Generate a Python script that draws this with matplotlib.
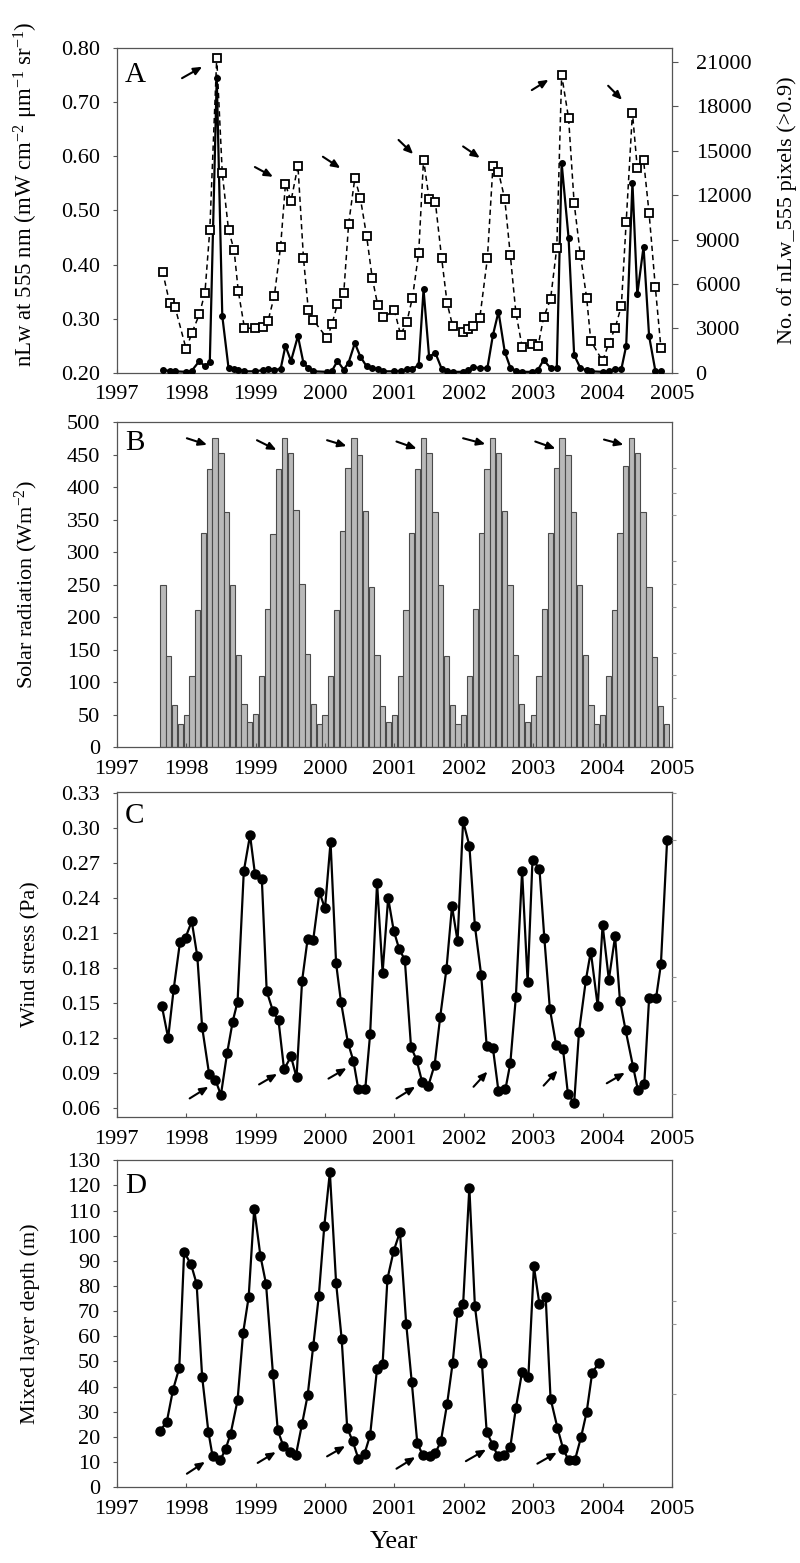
#!/usr/bin/env python3
"""Monthly nLw(555), solar radiation, wind stress and mixed layer depth, 1997-2005."""

import numpy as np
import matplotlib
matplotlib.use('Agg')
import matplotlib.pyplot as plt

plt.rcParams['font.family'] = 'Liberation Serif'
plt.rcParams['mathtext.fontset'] = 'custom'
plt.rcParams['mathtext.rm'] = 'Liberation Serif'
plt.rcParams['mathtext.it'] = 'Liberation Serif:italic'

FS = 16

# ─── data ─────

# A: nLw at 555 nm (left axis) and number of turbid pixels (right axis)
nlw_year = [1997.66, 1997.76, 1997.84, 1998.00, 1998.08, 1998.19, 1998.27, 1998.34, 1998.44, 1998.52,
            1998.61, 1998.69, 1998.75, 1998.84, 1998.99, 1999.10, 1999.18, 1999.27, 1999.36, 1999.43,
            1999.51, 1999.61, 1999.69, 1999.76, 1999.83, 2000.03, 2000.10, 2000.18, 2000.27, 2000.34,
            2000.43, 2000.51, 2000.60, 2000.68, 2000.76, 2000.84, 2001.00, 2001.09, 2001.18, 2001.26,
            2001.35, 2001.42, 2001.50, 2001.59, 2001.68, 2001.76, 2001.84, 2001.99, 2002.06, 2002.13,
            2002.23, 2002.34, 2002.42, 2002.50, 2002.59, 2002.67, 2002.75, 2002.84, 2002.98, 2003.07,
            2003.15, 2003.25, 2003.34, 2003.41, 2003.51, 2003.59, 2003.68, 2003.77, 2003.83, 2004.00,
            2004.09, 2004.18, 2004.27, 2004.34, 2004.43, 2004.50, 2004.59, 2004.67, 2004.76, 2004.84]
nlw_555 = [0.205, 0.204, 0.203, 0.202, 0.204, 0.222, 0.212, 0.220, 0.745, 0.305,
           0.209, 0.208, 0.206, 0.203, 0.203, 0.205, 0.208, 0.206, 0.207, 0.250,
           0.222, 0.268, 0.218, 0.209, 0.203, 0.202, 0.204, 0.222, 0.206, 0.219,
           0.255, 0.230, 0.212, 0.209, 0.207, 0.203, 0.203, 0.204, 0.207, 0.207,
           0.215, 0.354, 0.230, 0.237, 0.208, 0.204, 0.202, 0.202, 0.205, 0.211,
           0.209, 0.209, 0.270, 0.313, 0.239, 0.210, 0.204, 0.202, 0.202, 0.206,
           0.224, 0.209, 0.209, 0.587, 0.449, 0.233, 0.209, 0.205, 0.203, 0.202,
           0.203, 0.208, 0.207, 0.250, 0.551, 0.345, 0.433, 0.268, 0.204, 0.203]
n_pixels = [6840, 4750, 4430, 1600, 2680, 3960, 5420, 9650, 21280, 13480,
            9650, 8300, 5540, 3020, 3020, 3130, 3530, 5200, 8530, 12740,
            11610, 13990, 7740, 4250, 3580, 2340, 3290, 4660, 5380, 10040,
            13160, 11790, 9230, 6430, 4570, 3750, 4230, 2570, 3460, 5080,
            8100, 14410, 11750, 11540, 7780, 4700, 3160, 2770, 2970, 3200,
            3690, 7740, 13990, 13570, 11750, 7970, 4080, 1780, 1920, 1800,
            3750, 4980, 8460, 20120, 17190, 11460, 7970, 5080, 2160, 810,
            2010, 3020, 4520, 10210, 17570, 13820, 14380, 10780, 5790, 1710]

# B: monthly solar radiation, Sep 1997 - Dec 2004
solar_start = 1997 + 8 / 12
solar = [250, 140, 65, 36,
         50, 110, 211, 330, 428, 475, 452, 362, 250, 141, 66, 38,
         51, 110, 213, 328, 428, 476, 452, 365, 251, 143, 66, 36,
         50, 110, 211, 332, 430, 476, 450, 363, 247, 141, 63, 38,
         50, 110, 211, 330, 428, 475, 452, 362, 250, 140, 65, 36,
         50, 110, 213, 330, 428, 476, 452, 363, 250, 141, 66, 38,
         50, 110, 213, 330, 430, 476, 450, 362, 250, 141, 65, 36,
         50, 110, 211, 330, 432, 476, 452, 362, 247, 138, 64, 36]

# C: wind stress
wind_year = [1997.65, 1997.74, 1997.82, 1997.91, 1997.99, 1998.08, 1998.16, 1998.23, 1998.33, 1998.42,
             1998.50, 1998.59, 1998.67, 1998.74, 1998.83, 1998.92, 1998.99, 1999.09, 1999.16, 1999.25,
             1999.33, 1999.41, 1999.51, 1999.59, 1999.67, 1999.75, 1999.83, 1999.92, 2000.00, 2000.08,
             2000.16, 2000.23, 2000.33, 2000.41, 2000.48, 2000.58, 2000.65, 2000.75, 2000.83, 2000.91,
             2000.99, 2001.07, 2001.15, 2001.24, 2001.32, 2001.40, 2001.49, 2001.58, 2001.66, 2001.75,
             2001.83, 2001.91, 2001.99, 2002.08, 2002.16, 2002.25, 2002.33, 2002.42, 2002.50, 2002.60,
             2002.67, 2002.75, 2002.84, 2002.92, 2002.99, 2003.09, 2003.16, 2003.24, 2003.33, 2003.43,
             2003.50, 2003.59, 2003.66, 2003.76, 2003.83, 2003.93, 2004.00, 2004.09, 2004.18, 2004.25,
             2004.33, 2004.44, 2004.51, 2004.60, 2004.67, 2004.77, 2004.84, 2004.93]
wind = [0.147, 0.120, 0.162, 0.202, 0.206, 0.220, 0.190, 0.129, 0.089, 0.084,
        0.071, 0.107, 0.134, 0.151, 0.263, 0.294, 0.261, 0.256, 0.160, 0.143,
        0.135, 0.093, 0.104, 0.086, 0.169, 0.205, 0.204, 0.245, 0.231, 0.288,
        0.184, 0.151, 0.116, 0.100, 0.076, 0.076, 0.123, 0.253, 0.176, 0.240,
        0.212, 0.196, 0.187, 0.112, 0.101, 0.082, 0.079, 0.097, 0.138, 0.179,
        0.233, 0.203, 0.306, 0.285, 0.216, 0.174, 0.113, 0.111, 0.074, 0.076,
        0.098, 0.155, 0.263, 0.168, 0.273, 0.265, 0.206, 0.145, 0.114, 0.110,
        0.072, 0.064, 0.125, 0.170, 0.194, 0.147, 0.217, 0.170, 0.207, 0.152,
        0.127, 0.095, 0.075, 0.080, 0.154, 0.154, 0.183, 0.290]

# D: mixed layer depth
mld_year = [1997.62, 1997.72, 1997.81, 1997.90, 1997.97, 1998.07, 1998.15, 1998.23, 1998.32, 1998.38,
            1998.49, 1998.57, 1998.64, 1998.74, 1998.82, 1998.90, 1998.98, 1999.07, 1999.15, 1999.25,
            1999.32, 1999.40, 1999.49, 1999.58, 1999.67, 1999.75, 1999.83, 1999.91, 1999.99, 2000.07,
            2000.16, 2000.24, 2000.32, 2000.40, 2000.48, 2000.57, 2000.65, 2000.75, 2000.83, 2000.90,
            2000.99, 2001.08, 2001.17, 2001.25, 2001.33, 2001.41, 2001.51, 2001.59, 2001.67, 2001.76,
            2001.84, 2001.91, 2001.99, 2002.08, 2002.16, 2002.26, 2002.33, 2002.42, 2002.49, 2002.58,
            2002.67, 2002.75, 2002.84, 2002.93, 2003.01, 2003.09, 2003.18, 2003.25, 2003.35, 2003.43,
            2003.51, 2003.60, 2003.69, 2003.77, 2003.85, 2003.95]
mld = [22.3, 25.9, 38.7, 47.4, 93.5, 88.6, 80.9, 43.8, 21.9, 12.3,
       10.6, 15.3, 21.2, 34.5, 61.3, 75.6, 110.8, 91.9, 80.9, 45.1,
       22.5, 16.3, 13.9, 12.6, 25.2, 36.5, 56.0, 75.9, 103.9, 125.3,
       81.2, 59.0, 23.5, 18.2, 11.3, 13.3, 20.6, 47.1, 49.1, 82.9,
       94.0, 101.5, 65.0, 41.8, 17.5, 12.6, 12.2, 13.5, 18.2, 33.2,
       49.5, 69.6, 72.7, 119.1, 72.0, 49.5, 21.9, 16.6, 12.3, 12.6,
       15.9, 31.4, 45.8, 43.8, 87.8, 72.7, 75.6, 35.2, 23.5, 15.3,
       10.6, 10.6, 19.9, 29.8, 45.5, 49.5]

# arrows marking the summer events: (x_tail, y_tail, x_head, y_head)
arrows_A = [(1997.94, 0.744, 1998.23, 0.765), (1998.99, 0.580, 1999.25, 0.562),
            (1999.97, 0.599, 2000.22, 0.578), (2001.06, 0.630, 2001.27, 0.604),
            (2001.99, 0.618, 2002.23, 0.597), (2002.98, 0.722, 2003.22, 0.741),
            (2004.08, 0.730, 2004.28, 0.704)]
arrows_B = [(1998.01, 475, 1998.30, 465), (1999.02, 472, 1999.30, 457),
            (2000.03, 472, 2000.31, 463), (2001.03, 470, 2001.32, 459),
            (2001.99, 475, 2002.31, 466), (2003.03, 470, 2003.32, 459),
            (2004.02, 473, 2004.30, 465)]
arrows_C = [(1998.05, 0.068, 1998.32, 0.078), (1999.05, 0.080, 1999.31, 0.089),
            (2000.05, 0.085, 2000.31, 0.094), (2001.03, 0.068, 2001.30, 0.078),
            (2002.14, 0.078, 2002.34, 0.091), (2003.15, 0.079, 2003.35, 0.092),
            (2004.06, 0.081, 2004.32, 0.090)]
arrows_D = [(1998.01, 5.3, 1998.27, 10.0), (1999.03, 9.6, 1999.29, 13.9),
            (2000.03, 12.2, 2000.29, 16.3), (2001.03, 7.3, 2001.30, 11.9),
            (2002.03, 10.3, 2002.32, 14.9), (2003.06, 9.3, 2003.34, 13.7)]

SPINE = '#555555'


def style(ax):
    ax.set_xlim(1997, 2005)
    ax.set_xticks(range(1997, 2006))
    for s in ax.spines.values():
        s.set_color(SPINE)
        s.set_linewidth(0.9)
    ax.tick_params(axis='x', direction='in', length=3, labelsize=FS, pad=9, color=SPINE)
    ax.tick_params(axis='y', direction='out', length=3, labelsize=FS, pad=9, color=SPINE)
    ax.yaxis.set_label_coords(-0.138, 0.5)


def arrows(ax, arr):
    for x0, y0, x1, y1 in arr:
        ax.annotate('', xy=(x1, y1), xytext=(x0, y0),
                    arrowprops=dict(arrowstyle='-|>,head_length=0.5,head_width=0.22',
                                    color='k', lw=1.5, shrinkA=0, shrinkB=0))


def letter(ax, s, y):
    ax.text(0.015, y, s, transform=ax.transAxes, fontsize=21, va='top', ha='left')


def right_marks(ax, ticks):
    tw = ax.twinx()
    tw.set_ylim(ax.get_ylim())
    tw.set_yticks(ticks)
    tw.set_yticklabels([])
    tw.tick_params(axis='y', direction='out', length=3, color='#999999')
    for s in tw.spines.values():
        s.set_visible(False)


fig = plt.figure(figsize=(8, 15.63), dpi=100)
L, W = 0.146, 0.694
axA = fig.add_axes([L, 0.7614, W, 0.208])
axB = fig.add_axes([L, 0.522, W, 0.208])
axC = fig.add_axes([L, 0.2853, W, 0.208])
axD = fig.add_axes([L, 0.0486, W, 0.209])

# ─── A: nLw_555 and turbid pixel count ─────

style(axA)
axA.plot(nlw_year, nlw_555, '-', color='k', lw=1.6, marker='o', ms=4, zorder=3)
axA.set_ylim(0.2, 0.8)
axA.set_yticks(np.arange(0.2, 0.81, 0.1))
axA.set_yticklabels([f'{v:.2f}' for v in np.arange(0.2, 0.81, 0.1)])
axA.set_ylabel('nLw at 555 nm (mW cm$^{-2}$ μm$^{-1}$ sr$^{-1}$)', fontsize=16.5)
axA.yaxis.set_label_coords(-0.138, 0.55)

axA2 = axA.twinx()
axA2.plot(nlw_year, n_pixels, ls=(0, (3.5, 2.5)), color='k', lw=1.1, marker='s',
          mfc='white', mec='k', ms=5.5, mew=1.3, zorder=4)
axA2.set_ylim(0, 21950)
axA2.set_yticks(range(0, 21001, 3000))
axA2.tick_params(axis='y', direction='out', length=4, labelsize=FS, pad=13, color=SPINE)
for s in axA2.spines.values():
    s.set_visible(False)
axA2.set_ylabel('No. of nLw_555 pixels (>0.9)', fontsize=FS)
axA2.yaxis.set_label_coords(1.19, 0.5)
arrows(axA, arrows_A)
letter(axA, 'A', 0.955)

# ─── B: solar radiation bars ─────

style(axB)
solar_x = solar_start + np.arange(len(solar)) / 12
axB.bar(solar_x, solar, width=0.076, color='#b9b9b9', edgecolor='#4a4a4a', linewidth=0.8)
axB.set_ylim(0, 500)
axB.set_yticks(range(0, 501, 50))
axB.set_ylabel('Solar radiation (Wm$^{-2}$)', fontsize=FS)
right_marks(axB, [429, 391, 357, 286, 251, 215, 145, 111, 75])
arrows(axB, arrows_B)
letter(axB, 'B', 0.975)

# ─── C: wind stress ─────

style(axC)
axC.plot(wind_year, wind, '-', color='k', lw=1.6, marker='o', ms=6.5, zorder=3)
axC.set_ylim(0.052, 0.331)
axC.set_yticks(np.arange(0.06, 0.331, 0.03))
axC.set_yticklabels([f'{v:.2f}' for v in np.arange(0.06, 0.331, 0.03)])
axC.set_ylabel('Wind stress (Pa)', fontsize=FS)
right_marks(axC, [0.330, 0.290, 0.172, 0.152, 0.072])
arrows(axC, arrows_C)
letter(axC, 'C', 0.966)

# ─── D: mixed layer depth ─────

style(axD)
axD.plot(mld_year, mld, '-', color='k', lw=1.6, marker='o', ms=6.5, zorder=3)
axD.set_ylim(0, 130)
axD.set_yticks(range(0, 131, 10))
axD.set_ylabel('Mixed layer depth (m)', fontsize=FS)
axD.set_xlabel('Year', fontsize=19, labelpad=9)
right_marks(axD, [110, 101, 74, 65, 37])
arrows(axD, arrows_D)
letter(axD, 'D', 0.96)

plt.savefig('out.png', dpi=100)
plt.close()
print('Saved out.png')
